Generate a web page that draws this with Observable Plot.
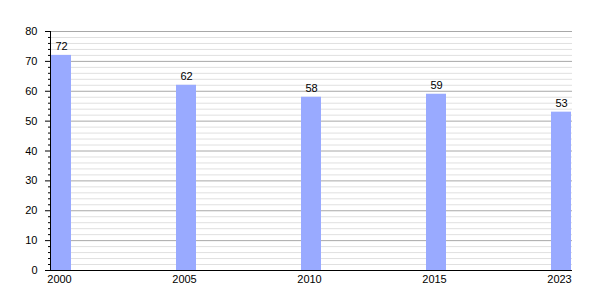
<!DOCTYPE html>
<html>
<head>
<meta charset="utf-8">
<script src="https://cdn.jsdelivr.net/npm/d3@7"></script>
<script src="https://cdn.jsdelivr.net/npm/@observablehq/plot@0.6"></script>
<style>
  body { margin: 0; background: #fff; }
  #chart svg { font-family: "Liberation Sans", Arial, sans-serif; }
</style>
</head>
<body>
<div id="chart"></div>
<script>
const years = ["2000", "2005", "2010", "2015", "2023"];
const values = [72, 62, 58, 59, 53];
const majorTicks = [0, 10, 20, 30, 40, 50, 60, 70, 80];
const minorTicks = d3.range(0, 81, 2).filter(v => v % 10 !== 0);

const data = years.map((y, i) => ({year: y, value: values[i]}));

const chart = Plot.plot({
  width: 600,
  height: 300,
  marginLeft: 50,
  marginRight: 28,
  marginTop: 31,
  marginBottom: 30,
  style: {fontSize: "11px", fontFamily: "'Liberation Sans', Arial, sans-serif", color: "#000", background: "#fff"},
  x: {type: "band", domain: years, range: [51, 571], paddingInner: 0.84, paddingOuter: 0, label: null},
  y: {domain: [0, 80], label: null},
  marks: [
    Plot.ruleY(minorTicks, {stroke: "#e0e0e0", strokeOpacity: 1}),
    Plot.ruleY(majorTicks.filter(v => v > 0), {stroke: "#a8a8a8", strokeOpacity: 1}),
    Plot.barY(data, {x: "year", y: "value", fill: "#99aaff"}),
    Plot.text(data, {x: "year", y: "value", text: d => String(d.value), dy: -5, lineAnchor: "bottom", fill: "#000"}),
    Plot.axisY({ticks: minorTicks, tickSize: 2, text: null, stroke: "#000"}),
    Plot.axisY({ticks: majorTicks, tickSize: 5, tickPadding: 8, label: null, stroke: "#000"}),
    Plot.axisX({tickSize: 0, tickPadding: 5, dx: -2, label: null}),
    Plot.frame({anchor: "left", stroke: "#000"}),
    Plot.ruleY([0], {stroke: "#000"})
  ]
});
document.getElementById("chart").appendChild(chart);
</script>
</body>
</html>
